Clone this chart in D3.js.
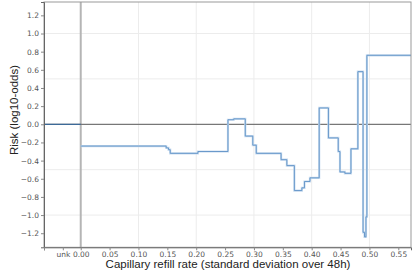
<!DOCTYPE html>
<html>
<head>
<meta charset="utf-8">
<script src="https://cdn.jsdelivr.net/npm/d3@7"></script>
<style>
  body { margin: 0; background: #fff; }
  svg text { font-family: "DejaVu Sans", sans-serif; }
  .title { font-family: "Liberation Sans", Arial, sans-serif; }
</style>
</head>
<body>
<div id="chart"></div>
<script>
width = 412
height = 277
margin = {top: 2, right: 1, bottom: 30, left: 44}

// step breakpoints (start of each bin) and the risk in that bin
binStarts = [0.0, 0.148, 0.152, 0.155, 0.203, 0.255, 0.265, 0.285, 0.298, 0.304,
             0.347, 0.357, 0.370, 0.383, 0.3875, 0.397, 0.413, 0.429, 0.446, 0.449,
             0.4575, 0.468, 0.480, 0.489, 0.4915, 0.494, 0.4956]
binRisk = [-0.24, -0.26, -0.28, -0.32, -0.30, 0.05, 0.06, -0.13, -0.23, -0.32,
           -0.39, -0.455, -0.73, -0.70, -0.63, -0.59, 0.18, -0.15, -0.30, -0.525,
           -0.54, -0.27, 0.58, -1.19, -1.24, -1.02, 0.76]
unkRisk = 0.0

yTicks = [-1.2, -1.0, -0.8, -0.6, -0.4, -0.2, 0.0, 0.2, 0.4, 0.6, 0.8, 1.0, 1.2]
xTicks = [0, 0.05, 0.1, 0.15, 0.2, 0.25, 0.3, 0.35, 0.4, 0.45, 0.5, 0.55]
xGrid = [0.1, 0.2, 0.3, 0.4, 0.5]
yGrid = [-1.0, -0.5, 0.5, 1.0]
unkPos = -0.031

const svg = d3.select("#chart").append("svg")
    .attr("width", width)
    .attr("height", height)

const x = d3.scaleLinear().domain([-0.0636, 0.572]).range([margin.left, width - margin.right])
const y = d3.scaleLinear().domain([-1.355, 1.347]).range([height - margin.bottom + 0.3, margin.top])

// grid
svg.append("g").selectAll("line").data(xGrid).join("line")
    .attr("x1", d => x(d)).attr("x2", d => x(d))
    .attr("y1", y.range()[1]).attr("y2", y.range()[0])
    .attr("stroke", "#ececec")
svg.append("g").selectAll("line").data(yGrid).join("line")
    .attr("x1", x.range()[0]).attr("x2", x.range()[1])
    .attr("y1", d => y(d)).attr("y2", d => y(d))
    .attr("stroke", "#ececec")

// zero lines
svg.append("line")
    .attr("x1", x(0)).attr("x2", x(0))
    .attr("y1", y.range()[1]).attr("y2", y.range()[0])
    .attr("stroke", "#b5b5b5").attr("stroke-width", 2)
svg.append("line")
    .attr("x1", x.range()[0]).attr("x2", x.range()[1])
    .attr("y1", y(0)).attr("y2", y(0))
    .attr("stroke", "#777").attr("stroke-width", 1.2)

// step curve
const pts = binStarts.map((s, i) => [s, binRisk[i]])
pts.push([x.domain()[1], binRisk[binRisk.length - 1]])
const line = d3.line().x(d => x(d[0])).y(d => y(d[1])).curve(d3.curveStepAfter)

svg.append("path").datum(pts)
    .attr("d", line).attr("fill", "none")
    .attr("stroke", "#c9dcef").attr("stroke-width", 2.2)
svg.append("path").datum(pts)
    .attr("d", line).attr("fill", "none")
    .attr("stroke", "#5e91c6").attr("stroke-width", 0.9)

// unknown bin
svg.append("line")
    .attr("x1", x.range()[0]).attr("x2", x(0))
    .attr("y1", y(unkRisk)).attr("y2", y(unkRisk))
    .attr("stroke", "#3d6a98").attr("stroke-width", 1.3)

// frame
svg.append("rect")
    .attr("x", x.range()[0]).attr("y", y.range()[1])
    .attr("width", x.range()[1] - x.range()[0])
    .attr("height", y.range()[0] - y.range()[1])
    .attr("fill", "none").attr("stroke", "#999")

// axes
const yAxis = svg.append("g")
    .attr("transform", `translate(${x.range()[0]},0)`)
    .call(d3.axisLeft(y).tickValues(yTicks).tickFormat(d3.format(".1f")).tickSize(3).tickPadding(2))
yAxis.select(".domain").attr("stroke", "#666")
yAxis.selectAll(".tick line").attr("stroke", "#888")
yAxis.selectAll("text").attr("fill", "#555").style("font-size", "7.5px")

const xAxis = svg.append("g")
    .attr("transform", `translate(0,${y.range()[0]})`)
    .call(d3.axisBottom(x).tickValues([x.domain()[0], unkPos].concat(xTicks))
        .tickFormat(d => d === unkPos ? "unk" : (d < -0.05 ? "" : d3.format(".2f")(d)))
        .tickSize(3).tickPadding(1.5))
xAxis.select(".domain").attr("stroke", "#666")
xAxis.selectAll(".tick line").attr("stroke", "#888")
xAxis.selectAll("text").attr("fill", "#555").style("font-size", "7.5px")

// titles
svg.append("text").attr("class", "title")
    .attr("x", 228).attr("y", 268)
    .attr("text-anchor", "middle")
    .style("font-size", "11.5px").attr("fill", "#222")
    .text("Capillary refill rate (standard deviation over 48h)")
svg.append("text").attr("class", "title")
    .attr("transform", `translate(18,110) rotate(-90)`)
    .attr("text-anchor", "middle")
    .style("font-size", "11.5px").attr("fill", "#222")
    .text("Risk (log10-odds)")
</script>
</body>
</html>
